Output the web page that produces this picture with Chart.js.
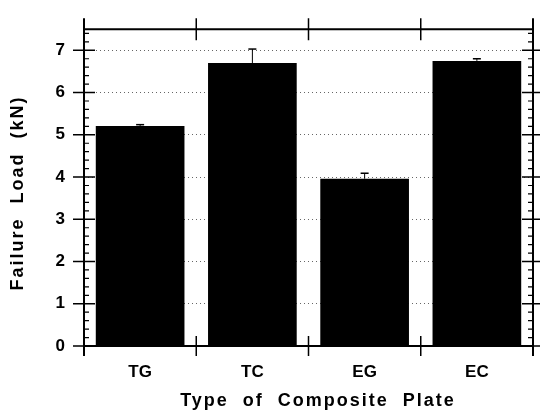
<!DOCTYPE html>
<html>
<head>
<meta charset="utf-8">
<script src="https://cdn.jsdelivr.net/npm/chart.js@4.4.0/dist/chart.umd.min.js"></script>
<style>
  html, body { margin: 0; padding: 0; background: #fff; }
  #wrap { width: 540px; height: 414px; }
</style>
</head>
<body>
<div id="wrap"><canvas id="bc-failure-load" width="540" height="414"></canvas></div>
<script>
const categories = ["TG", "TC", "EG", "EC"];
const failureLoad = [5.21, 6.7, 3.96, 6.75];
const loadError = [0.03, 0.33, 0.13, 0.05];
const yTickValues = [0, 1, 2, 3, 4, 5, 6, 7];

const FONT = "'Liberation Sans', Arial, Helvetica, sans-serif";

// frame, crossing ticks, minor ticks, error caps and axis titles
const framePlugin = {
  id: "frame",
  afterDatasetsDraw(chart) {
    const ctx = chart.ctx;
    const { left, right, top, bottom } = chart.chartArea;
    const x = chart.scales.x;
    const y = chart.scales.y;

    ctx.save();
    ctx.strokeStyle = "#000";

    // error bars
    failureLoad.forEach((v, i) => {
      const px = x.getPixelForValue(i);
      const y0 = y.getPixelForValue(v);
      const y1 = y.getPixelForValue(v + loadError[i]);
      ctx.lineWidth = 1;
      ctx.beginPath();
      ctx.moveTo(px, y0);
      ctx.lineTo(px, y1);
      ctx.stroke();
      ctx.lineWidth = 1.5;
      ctx.beginPath();
      ctx.moveTo(px - 4, y1);
      ctx.lineTo(px + 4, y1);
      ctx.stroke();
    });

    // frame
    ctx.lineWidth = 2;
    ctx.beginPath();
    ctx.moveTo(left, top - 11);
    ctx.lineTo(left, bottom + 10);
    ctx.moveTo(right, top - 11);
    ctx.lineTo(right, bottom + 10);
    ctx.moveTo(left, top);
    ctx.lineTo(right, top);
    ctx.moveTo(left, bottom);
    ctx.lineTo(right, bottom);
    ctx.stroke();

    // major y ticks
    ctx.lineWidth = 1.5;
    yTickValues.forEach((v) => {
      const py = y.getPixelForValue(v);
      ctx.beginPath();
      ctx.moveTo(left - 11, py);
      ctx.lineTo(left + 11, py);
      ctx.moveTo(right - 11, py);
      ctx.lineTo(right + 8, py);
      ctx.stroke();
    });

    // minor y ticks
    ctx.lineWidth = 1.2;
    for (let k = 1; k < 38; k++) {
      if (k % 5 === 0) continue;
      const py = y.getPixelForValue(k * 0.2);
      ctx.beginPath();
      ctx.moveTo(left, py);
      ctx.lineTo(left + 5, py);
      ctx.moveTo(right - 5, py);
      ctx.lineTo(right, py);
      ctx.stroke();
    }

    // category boundary ticks
    ctx.lineWidth = 1.5;
    for (let i = 0; i < categories.length - 1; i++) {
      const px = (x.getPixelForValue(i) + x.getPixelForValue(i + 1)) / 2;
      ctx.beginPath();
      ctx.moveTo(px, bottom - 10);
      ctx.lineTo(px, bottom + 10);
      ctx.moveTo(px, top - 11);
      ctx.lineTo(px, top + 11);
      ctx.stroke();
    }

    // axis titles
    ctx.fillStyle = "#000";
    ctx.letterSpacing = "2px";
    ctx.font = "bold 18px " + FONT;
    ctx.textAlign = "center";
    ctx.textBaseline = "middle";
    ctx.fillText("Type  of  Composite  Plate", 318, 401);

    ctx.translate(18, 193);
    ctx.rotate(-Math.PI / 2);
    ctx.fillText("Failure  Load  (kN)", 0, 0);
    ctx.restore();
  },
};

const data = {
  labels: categories,
  datasets: [
    {
      label: "Failure Load",
      data: failureLoad,
      backgroundColor: "#000",
      borderWidth: 0,
      barPercentage: 0.79,
      categoryPercentage: 1.0,
    },
  ],
};

const options = {
  responsive: false,
  animation: false,
  layout: {
    padding: { top: 23, right: 7, left: 0, bottom: 0 },
  },
  plugins: {
    legend: { display: false },
    tooltip: { enabled: false },
    title: { display: false },
  },
  scales: {
    x: {
      border: { display: false },
      grid: { display: false, drawTicks: false },
      ticks: {
        color: "#000",
        padding: 16,
        font: { family: FONT, weight: "bold", size: 17 },
      },
      afterFit(scale) {
        scale.height = 68;
      },
    },
    y: {
      min: 0,
      max: 7.5,
      border: { display: false },
      grid: {
        drawTicks: false,
        lineWidth: 1,
        color: (c) => (c.tick && c.tick.value > 0 && c.tick.value < 7.5 ? "#666" : "rgba(0,0,0,0)"),
      },
      afterBuildTicks(scale) {
        scale.ticks = yTickValues.map((v) => ({ value: v }));
      },
      ticks: {
        color: "#000",
        padding: 19,
        font: { family: FONT, weight: "bold", size: 17 },
      },
      afterFit(scale) {
        scale.width = 84;
      },
    },
  },
};

// dotted grid lines
options.scales.y.border.dash = [1, 3];

let ctx = document.getElementById("bc-failure-load").getContext("2d");
let barChart = new Chart(ctx, {
  type: "bar",
  data: data,
  options: options,
  plugins: [framePlugin],
});
</script>
</body>
</html>
